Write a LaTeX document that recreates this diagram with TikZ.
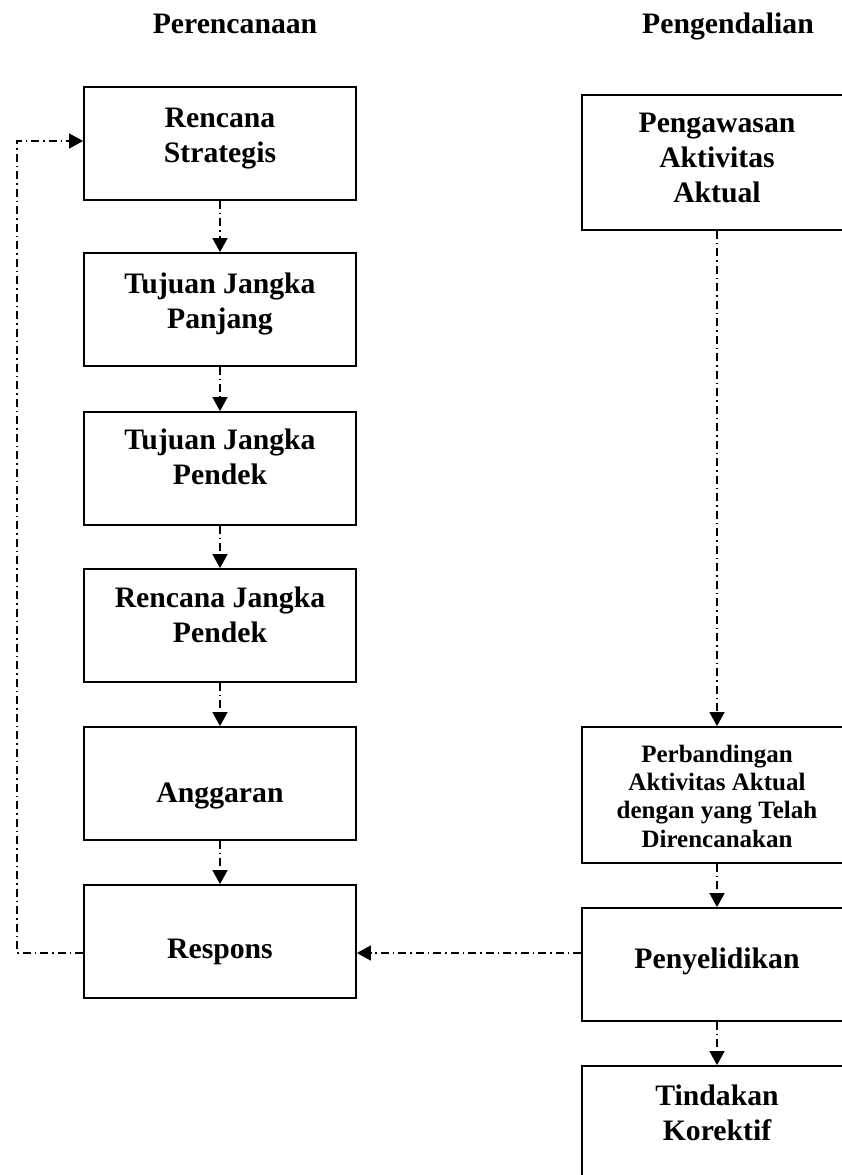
\documentclass[tikz,border=0pt]{standalone}
\usepackage{fontspec}
\setmainfont{Liberation Serif}
\usetikzlibrary{arrows.meta}

\newcommand{\boxlines}[4]{\parbox[c][#1][t]{#2}{\centering\rule{0pt}{#3}#4}}

\begin{document}
\begin{tikzpicture}[x=1pt,y=-1pt,
    head/.style={anchor=base, inner sep=0pt, font=\fontsize{29.7}{35}\selectfont\bfseries},
    box/.style={draw, line width=1.8pt, inner sep=0pt, font=\fontsize{29.7}{35}\selectfont\bfseries},
    smallbox/.style={box, font=\fontsize{25}{28.4}\selectfont\bfseries},
    flow/.style={line width=1.3pt, dash pattern=on 8pt off 4pt on 1.5pt off 4pt, -{Triangle[length=14pt,width=15pt]}}]
    \useasboundingbox (0,0) rectangle (842,1175);
    \clip (0,0) rectangle (842,1175);

    \node[head] (hplan) at (235,33) {Perencanaan};
    \node[head] (hctrl) at (728,33) {Pengendalian};

    \node[box] (strat) at (220,143.5) {\boxlines{113pt}{272pt}{40pt}{Rencana\\Strategis}};
    \node[box] (tjpj) at (220,309.5) {\boxlines{113pt}{272pt}{40pt}{Tujuan Jangka\\Panjang}};
    \node[box] (tjpd) at (220,468.5) {\boxlines{113pt}{272pt}{37pt}{Tujuan Jangka\\Pendek}};
    \node[box] (rjpd) at (220,625.5) {\boxlines{113pt}{272pt}{38pt}{Rencana Jangka\\Pendek}};
    \node[box] (angg) at (220,783.5) {\boxlines{113pt}{272pt}{75pt}{Anggaran}};
    \node[box] (resp) at (220,941.5) {\boxlines{113pt}{272pt}{73pt}{Respons}};

    \node[box] (awas) at (717,162.5) {\boxlines{135pt}{270pt}{37pt}{Pengawasan\\Aktivitas\\Aktual}};
    \node[smallbox] (banding) at (717,795) {\boxlines{136pt}{270pt}{35pt}{Perbandingan\\Aktivitas Aktual\\dengan yang Telah\\Direncanakan}};
    \node[box] (selidik) at (717,964.5) {\boxlines{113pt}{270pt}{60pt}{Penyelidikan}};
    \node[box] (tindak) at (717,1133.5) {\boxlines{135pt}{270pt}{39pt}{Tindakan\\Korektif}};

    \draw[flow] (strat.south) -- (tjpj.north);
    \draw[flow] (tjpj.south) -- (tjpd.north);
    \draw[flow] (tjpd.south) -- (rjpd.north);
    \draw[flow] (rjpd.south) -- (angg.north);
    \draw[flow] (angg.south) -- (resp.north);

    \draw[flow] (awas.south) -- (banding.north);
    \draw[flow] (banding.south) -- (selidik.north);
    \draw[flow] (selidik.south) -- (tindak.north);

    \coordinate (lvl) at (0,953);
    \coordinate (loop) at (17,141);
    \draw[flow] (selidik.west |- lvl) -- (resp.east |- lvl);
    \draw[flow] (resp.west |- lvl) -- (loop |- lvl) -- (loop) -- (strat.west |- loop);
\end{tikzpicture}
\end{document}
